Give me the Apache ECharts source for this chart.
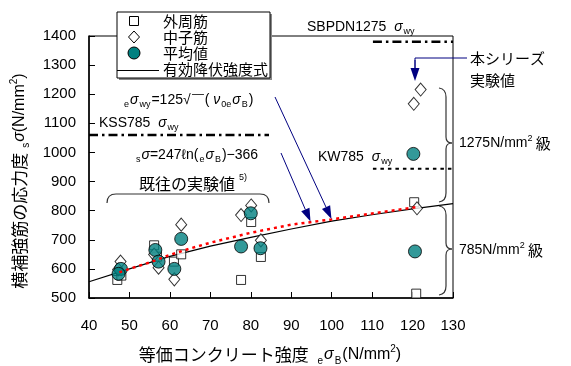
<!DOCTYPE html>
<html><head><meta charset="utf-8">
<script src="https://cdn.jsdelivr.net/npm/echarts@6/dist/echarts.min.js"></script>
<style>html,body{margin:0;padding:0;background:#fff}#c{width:571px;height:366px}</style>
</head><body><div id="c"></div>
<script>
// ---- data ----
const xTicks = [40,50,60,70,80,90,100,110,120,130];
const yTicks = [500,600,700,800,900,1000,1100,1200,1300,1400];
// 外周筋 (squares)
const sqX = [47.0, 48.0, 56.1, 56.8, 61.0, 62.8, 77.6, 80.1, 82.5, 120.4, 120.9];
const sqY = [562, 577, 681, 642, 625, 650, 562, 761, 641, 829, 515];
// 中子筋 (diamonds)
const diX = [47.8, 47.2, 56.1, 57.2, 61.1, 62.8, 77.6, 80.1, 82.5, 120.3, 122.0, 121.1];
const diY = [625, 598, 649, 604, 564, 752, 785, 818, 698, 1167, 1216, 808];
// 平均値 (circles)
const ciX = [47.9, 47.3, 56.4, 57.2, 61.1, 62.8, 77.6, 80.0, 82.4, 120.2, 120.6];
const ciY = [600, 583, 665, 625, 600, 703, 677, 791, 671, 995, 660];
// 有効降伏強度式 (solid curve)
const solX = [40, 50, 60, 70, 80, 90, 100, 110, 120, 130];
const solY = [556, 600, 643, 678, 708, 737, 764, 786, 806, 824];
// regression (red dotted)
const redX = [47.5, 50, 55, 60, 65, 70, 80, 90, 100, 110, 121];
const redY = [588, 600, 622, 648, 670, 690, 724, 752, 770, 790, 812];
// reference strengths
const kssX = [40, 84.5], kssY = [1060, 1060];
const kwX = [110.2, 130], kwY = [944, 944];
const sbX = [110.2, 130], sbY = [1380, 1380];

const zip = (a, b) => a.map((v, i) => [v, b[i]]);
const JP = '"Noto Sans CJK JP", sans-serif';
const EN = '"Liberation Sans", Arial, sans-serif';

const chart = echarts.init(document.getElementById('c'), null, {renderer: 'canvas'});

function arrow(x1, y1, x2, y2, col) {
  const L = 13, w = 4.5;
  const dx = x2 - x1, dy = y2 - y1, d = Math.hypot(dx, dy);
  const ux = dx / d, uy = dy / d, nx = -uy, ny = ux;
  const bx = x2 - ux * L, by = y2 - uy * L;
  return [
    {type: 'line', shape: {x1, y1, x2: bx, y2: by}, style: {stroke: col, lineWidth: 1}, z: 50},
    {type: 'polygon', shape: {points: [[x2, y2], [bx + nx * w, by + ny * w], [bx - nx * w, by - ny * w]]}, style: {fill: col}, z: 50}
  ];
}

const rich = {
  t: {fontSize: 14, fontFamily: EN, color: '#000', lineHeight: 18, verticalAlign: 'middle'},
  g: {fontSize: 14, fontFamily: EN, fontStyle: 'italic', color: '#000', lineHeight: 18, verticalAlign: 'middle'},
  s: {fontSize: 9, fontFamily: EN, color: '#000', lineHeight: 18, verticalAlign: 'bottom', padding: [0,1,0,1]},
  j: {fontSize: 15, fontFamily: JP, color: '#000', lineHeight: 18, verticalAlign: 'middle'},
  j16: {fontSize: 16, fontFamily: JP, color: '#000', lineHeight: 20, verticalAlign: 'middle'},
  sup: {fontSize: 9, fontFamily: EN, color: '#000', lineHeight: 18, verticalAlign: 'top'},
  sm: {fontSize: 9, fontFamily: EN, color: '#000', lineHeight: 10, verticalAlign: 'middle'},
  T: {fontSize: 16, fontFamily: EN, color: '#000', lineHeight: 22, verticalAlign: 'middle'},
  G: {fontSize: 16, fontFamily: EN, fontStyle: 'italic', color: '#000', lineHeight: 22, verticalAlign: 'middle'},
  S: {fontSize: 10, fontFamily: EN, color: '#000', lineHeight: 22, verticalAlign: 'bottom', padding: [0,1,0,1]},
  SUP: {fontSize: 10, fontFamily: EN, color: '#000', lineHeight: 22, verticalAlign: 'top'},
  JT: {fontSize: 17, fontFamily: JP, color: '#000', lineHeight: 22, verticalAlign: 'middle'}
};
const txt = (x, y, text, align, extra) => Object.assign({
  type: 'text', x, y, z: 60,
  style: {text, rich, align: align || 'left', verticalAlign: 'middle', fill: '#000'}
}, extra || {});

const NAVY = '#000080';
let graphics = [];
// legend
graphics.push({type: 'rect', shape: {x: 119, y: 14, width: 153, height: 66}, style: {fill: '#888'}, z: 40});
graphics.push({type: 'rect', shape: {x: 117, y: 12, width: 153, height: 66}, style: {fill: '#fff', stroke: '#000', lineWidth: 1}, z: 41});
graphics.push({type: 'rect', shape: {x: 129.5, y: 16.5, width: 9, height: 9}, style: {fill: '#fff', stroke: '#000', lineWidth: 1}, z: 42});
graphics.push({type: 'polygon', shape: {points: [[134, 31], [139.5, 37], [134, 43], [128.5, 37]]}, style: {fill: '#fff', stroke: '#000', lineWidth: 1}, z: 42});
graphics.push({type: 'circle', shape: {cx: 134, cy: 53, r: 6}, style: {fill: '#008080', stroke: '#000', lineWidth: 1}, z: 42});
graphics.push({type: 'line', shape: {x1: 117, y1: 70.5, x2: 159, y2: 70.5}, style: {stroke: '#000', lineWidth: 1.2}, z: 42});
[['外周筋', 21], ['中子筋', 37], ['平均値', 53], ['有効降伏強度式', 69]].forEach(([t, y]) =>
  graphics.push(txt(163, y, '{j|' + t + '}', 'left', {z: 43})));

// annotations
graphics.push(txt(307, 27, '{t|SBPDN1275  }{g|σ}{s|wy}'));
graphics.push(txt(123, 100, '{s|e}{g|σ}{s|wy}{t|=125√￣( }{g|ν}{s|0e}{g|σ}{s|B}{t|)}'));
graphics.push(txt(99, 123, '{t|KSS785  }{g|σ}{s|wy}'));
graphics.push(txt(135, 155, '{s|s}{g|σ}{t|=247ℓn(}{s|e}{g|σ}{s|B}{t|)−366}'));
graphics.push(txt(318, 157, '{t|KW785  }{g|σ}{s|wy}'));
graphics.push(txt(187, 184, '{j16|既往の実験値}', 'center'));
graphics.push(txt(239, 178, '{sm|5)}'));
graphics.push(txt(470, 58, '{j|本シリーズ}'));
graphics.push(txt(470, 80, '{j|実験値}'));
graphics.push(txt(459, 143, '{t|1275N/mm}{sup|2}{j| 級}'));
graphics.push(txt(459, 250, '{t|785N/mm}{sup|2}{j| 級}'));
// axis titles
graphics.push(txt(270, 355, '{JT|等価コンクリート強度  }{S|e}{G|σ}{S|B}{T|(N/mm}{SUP|2}{T|)}', 'center'));
graphics.push(txt(20, 181, '{JT|横補強筋の応力度 }{S|s}{G|σ}{T|(N/mm}{SUP|2}{T|)}', 'center', {rotation: Math.PI / 2}));

// arrows
graphics = graphics.concat(arrow(275, 97, 331.5, 219, NAVY));
graphics = graphics.concat(arrow(281, 153, 310.5, 221.5, NAVY));
graphics.push({type: 'polyline', shape: {points: [[467, 58], [415, 58], [415, 68]]}, style: {stroke: NAVY, lineWidth: 1, fill: null}, z: 50});
graphics = graphics.concat(arrow(415, 60, 415, 81, NAVY));
// braces
const BR = {stroke: '#333', lineWidth: 1.2, fill: null};
const bz = (x1, y1, cx, cy, x2, y2) => ({type: 'bezierCurve', shape: {x1, y1, x2, y2, cpx1: cx, cpy1: cy}, style: BR, z: 45});
const ln = (x1, y1, x2, y2) => ({type: 'line', shape: {x1, y1, x2, y2}, style: BR, z: 45});
graphics.push(bz(107, 203, 107, 194, 116, 194), ln(116, 194, 260, 194), bz(260, 194, 269, 194, 269, 203));
function vbrace(y1, ym, y2) {
  return [bz(439, y1, 446, y1 + 1, 446, y1 + 9), ln(446, y1 + 9, 446, ym - 6), bz(446, ym - 6, 446, ym, 452, ym),
          bz(452, ym, 446, ym, 446, ym + 6), ln(446, ym + 6, 446, y2 - 9), bz(446, y2 - 9, 446, y2 - 1, 439, y2)];
}
graphics = graphics.concat(vbrace(88, 143, 202), vbrace(206, 249, 295));

const lineSeries = (data, style, z) => ({
  type: 'line', data, showSymbol: false, symbol: 'none', silent: true, smooth: false,
  lineStyle: style, z: z || 2, animation: false
});

chart.setOption({
  animation: false,
  grid: {left: 89, right: 118, top: 36, bottom: 68, show: true, borderColor: '#000', borderWidth: 1, backgroundColor: 'transparent'},
  xAxis: {
    type: 'value', min: 40, max: 130, interval: 10,
    axisLine: {show: true, lineStyle: {color: '#000', width: 1.5}},
    axisTick: {show: true, inside: true, length: 6, lineStyle: {color: '#000'}},
    axisLabel: {color: '#000', fontSize: 15, fontFamily: EN, margin: 20, formatter: v => xTicks.includes(v) ? String(v) : ''},
    splitLine: {show: false}
  },
  yAxis: {
    type: 'value', min: 500, max: 1400, interval: 100,
    axisLine: {show: true, lineStyle: {color: '#000', width: 1.5}},
    axisTick: {show: true, inside: true, length: 6, lineStyle: {color: '#000'}},
    axisLabel: {color: '#000', fontSize: 15, fontFamily: EN, margin: 13, formatter: v => yTicks.includes(v) ? String(v) : ''},
    splitLine: {show: false}
  },
  series: [
    lineSeries(zip(solX, solY), {color: '#000', width: 1.2}, 2),
    lineSeries(zip(kssX, kssY), {color: '#000', width: 2.5, type: [9, 4, 2.5, 4]}, 2),
    lineSeries(zip(sbX, sbY), {color: '#000', width: 2.5, type: [9, 4, 2.5, 4]}, 2),
    lineSeries(zip(kwX, kwY), {color: '#000', width: 2, type: [3.5, 4]}, 2),
    {type: 'scatter', data: zip(sqX, sqY), symbol: 'rect', symbolSize: 9, z: 3,
     itemStyle: {color: '#fff', borderColor: '#000', borderWidth: 1}},
    {type: 'scatter', data: zip(diX, diY), symbol: 'diamond', symbolSize: [11, 13], z: 4,
     itemStyle: {color: '#fff', borderColor: '#000', borderWidth: 1}},
    {type: 'scatter', data: zip(ciX, ciY), symbol: 'circle', symbolSize: 13, z: 5,
     itemStyle: {color: '#008080', borderColor: '#000', borderWidth: 1}},
    lineSeries(zip(redX, redY), {color: '#ff0000', width: 2.5, type: [3, 4]}, 6)
  ],
  graphic: graphics
});
</script></body></html>
